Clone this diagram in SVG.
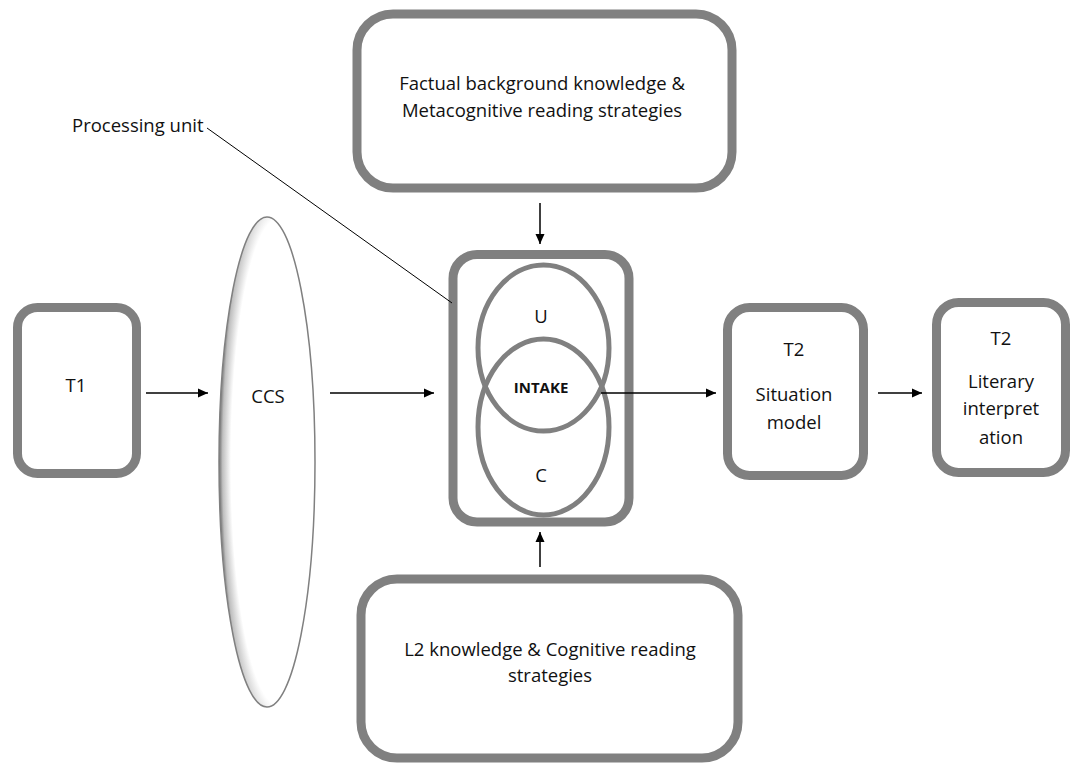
<svg xmlns="http://www.w3.org/2000/svg" width="1071" height="763" viewBox="0 0 1071 763">
<style>
.box{fill:#fff;stroke:#808080;stroke-width:9}
.ring{fill:none;stroke:#808080;stroke-width:5}
.t{font-family:"Open Sans","Liberation Sans",sans-serif;font-size:18.5px;fill:#111;text-anchor:middle}
.conn{stroke:#000;stroke-width:1.5;fill:none}
</style>
<defs>
<marker id="ah" viewBox="0 0 10 10" refX="10" refY="5" markerWidth="10" markerHeight="10" markerUnits="userSpaceOnUse" orient="auto">
<path d="M0,0.5 L10,5 L0,9.5 Z" fill="#000"/>
</marker>
<radialGradient id="lens" cx="0.62" cy="0.5" r="0.62">
<stop offset="0" stop-color="#fff"/>
<stop offset="0.8" stop-color="#fff"/>
<stop offset="0.94" stop-color="#c0c0c0"/>
<stop offset="1" stop-color="#6e6e6e"/>
</radialGradient>
</defs>
<rect width="1071" height="763" fill="#fff"/>
<g id="top-box">
<rect class="box" x="357" y="14" width="375" height="174" rx="36"/>
<text class="t" x="542" y="90">Factual background knowledge &amp;</text>
<text class="t" x="542" y="117">Metacognitive reading strategies</text>
</g>
<g id="bottom-box">
<rect class="box" x="361" y="579" width="377" height="179" rx="36"/>
<text class="t" x="550" y="656">L2 knowledge &amp; Cognitive reading</text>
<text class="t" x="550" y="682">strategies</text>
</g>
<g id="t1">
<rect class="box" x="17.5" y="307.5" width="119" height="166" rx="20"/>
<text class="t" x="76" y="392">T1</text>
</g>
<g id="ccs">
<ellipse cx="267" cy="462" rx="48" ry="245" fill="url(#lens)" stroke="#808080" stroke-width="1.5"/>
<text class="t" x="268" y="403">CCS</text>
</g>
<g id="processing-unit">
<rect class="box" x="453" y="254.5" width="176" height="267.5" rx="24"/>
<ellipse class="ring" cx="543.5" cy="348" rx="65.5" ry="83"/>
<ellipse class="ring" cx="543.5" cy="427" rx="65.5" ry="88"/>
<text class="t" x="541" y="323">U</text>
<text class="t" x="541" y="393" font-weight="bold" style="font-size:15px">INTAKE</text>
<text class="t" x="541" y="482">C</text>
</g>
<g id="t2-situation">
<rect class="box" x="727.5" y="307.5" width="136" height="168" rx="22"/>
<text class="t" x="794" y="356">T2</text>
<text class="t" x="794" y="401">Situation</text>
<text class="t" x="794" y="429">model</text>
</g>
<g id="t2-literary">
<rect class="box" x="936.5" y="302.5" width="129" height="170" rx="22"/>
<text class="t" x="1001" y="345">T2</text>
<text class="t" x="1001" y="388">Literary</text>
<text class="t" x="1001" y="415">interpret</text>
<text class="t" x="1001" y="444">ation</text>
</g>
<g id="label-processing-unit">
<text x="72" y="132" style="font-family:'Open Sans','Liberation Sans',sans-serif;font-size:18.5px;fill:#111">Processing unit</text>
</g>
<g id="connectors">
<line class="conn" x1="146" y1="393" x2="208" y2="393" marker-end="url(#ah)"/>
<line class="conn" x1="330" y1="393" x2="434" y2="393" marker-end="url(#ah)"/>
<line class="conn" x1="601" y1="393" x2="716" y2="393" marker-end="url(#ah)"/>
<line class="conn" x1="878" y1="393" x2="922" y2="393" marker-end="url(#ah)"/>
<line class="conn" x1="540" y1="203" x2="540" y2="244" marker-end="url(#ah)"/>
<line class="conn" x1="540" y1="567" x2="540" y2="532" marker-end="url(#ah)"/>
<line stroke="#000" stroke-width="1" x1="207" y1="128" x2="452" y2="303"/>
</g>
</svg>
